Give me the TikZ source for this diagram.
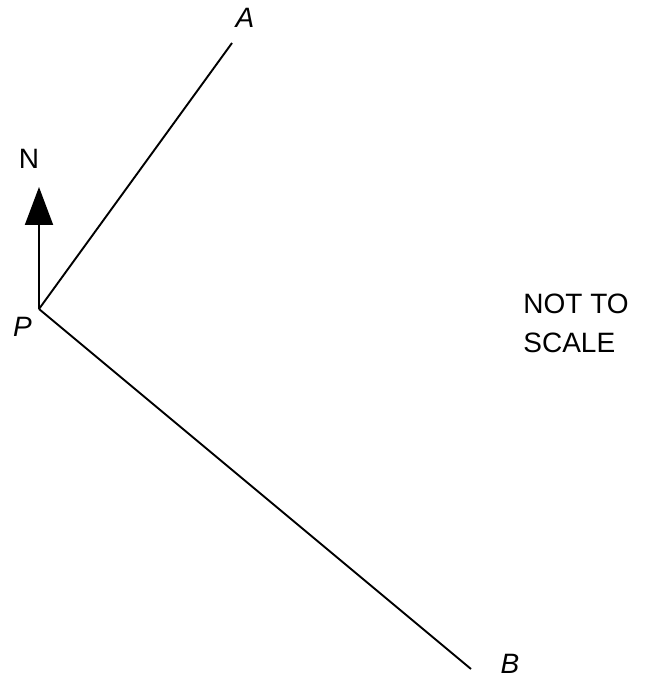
\documentclass[tikz,border=0pt]{standalone}
\usepackage{fontspec}
\setmainfont{Liberation Sans}
\usetikzlibrary{arrows.meta}
\begin{document}
\begin{tikzpicture}[x=0.5pt,y=-0.5pt,
  seg/.style={line width=0.95pt},
  lbl/.style={font=\fontsize{14}{16}\selectfont\itshape, inner sep=0pt},
  plain/.style={font=\fontsize{14}{16}\selectfont, inner sep=0pt}]
\useasboundingbox (0,0) rectangle (644,679);
\coordinate (P) at (39,309);
\coordinate (A) at (232,43);
\coordinate (B) at (471,669);
\coordinate (Ntip) at (39,187);
\draw[seg] (P) -- (A);
\draw[seg] (P) -- (B);
\draw[seg, -{Triangle[length=19pt,width=14pt]}] (P) -- (Ntip);
\node[plain] (nl) at (29,159) {N};
\node[lbl] (al) at (245,17.5) {A};
\node[lbl] (pl) at (22.5,327) {P};
\node[lbl] (bl) at (510,664) {B};
\node[plain, anchor=base west, align=left] (ns) at (523,313) {NOT TO};
\node[plain, anchor=base west, align=left] (sc) at (523,352) {SCALE};
\end{tikzpicture}
\end{document}
